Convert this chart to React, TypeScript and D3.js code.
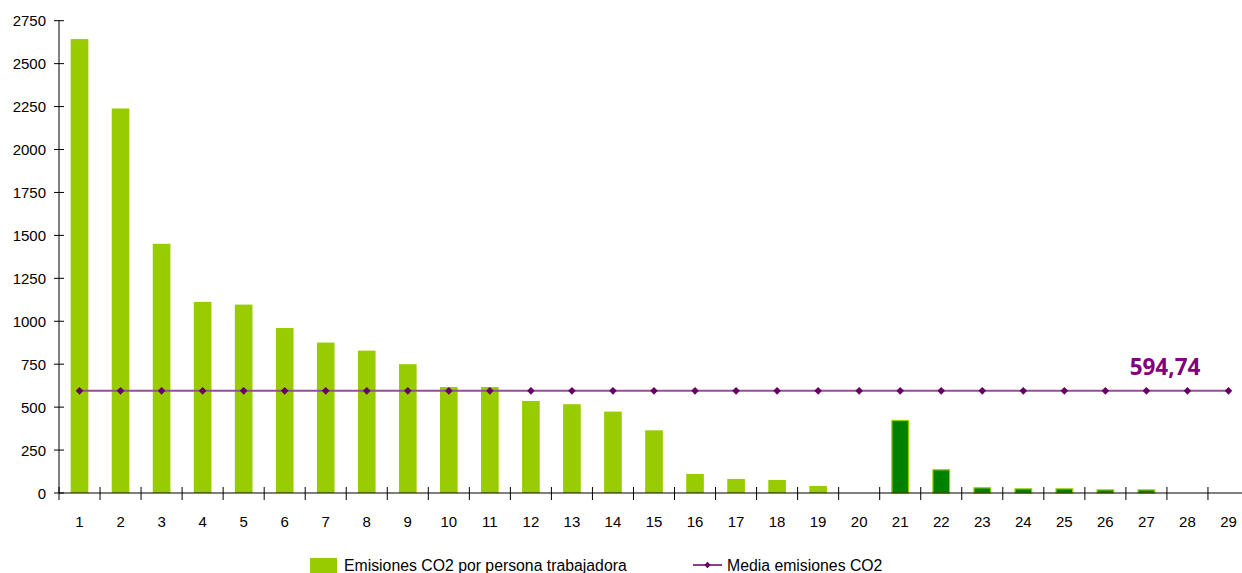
import React from "react";
import * as d3 from "d3";

const categories = Array.from({ length: 29 }, (_, i) => String(i + 1));
const emissions = [2643, 2239, 1451, 1113, 1097, 961, 876, 829, 750, 617, 617, 536, 517, 474, 365, 111, 82, 76, 41, 0, 425, 138, 33, 27, 27, 21, 21, 0, 0];
const darkGroup = [false, false, false, false, false, false, false, false, false, false, false, false, false, false, false, false, false, false, false, false, true, true, true, true, true, true, true, true, true];
const meanValue = 594.74;
const meanLabel = "594,74";
const yTicks = [0, 250, 500, 750, 1000, 1250, 1500, 1750, 2000, 2250, 2500, 2750];
const legendBar = "Emisiones CO2 por persona trabajadora";
const legendLine = "Media emisiones CO2";

const W = 1242;
const H = 573;
const left = 59;
const right = 1249;
const top = 20.7;
const bottom = 493;

export default function App() {
  const x = d3.scaleBand<string>().domain(categories).range([left, right]).paddingInner(0).paddingOuter(0);
  const y = d3.scaleLinear().domain([0, 2750]).range([bottom, top]);
  const bw = x.bandwidth() * 0.43;
  const font = "'Liberation Sans', Arial, sans-serif";
  const my = y(meanValue);
  const diamond = (cx: number, cy: number, r: number) =>
    `M${cx},${cy - r}L${cx + r},${cy}L${cx},${cy + r}L${cx - r},${cy}Z`;
  const boundaries = categories.map((c) => x(c) as number);

  return (
    <svg width={W} height={H} style={{ position: "absolute", left: 0, top: 0, background: "#fff" }}>
      {/* bars */}
      {categories.map((c, i) => {
        const v = emissions[i];
        if (v <= 0) return null;
        const cx = (x(c) as number) + x.bandwidth() / 2;
        const yTop = y(v);
        const dark = darkGroup[i];
        return dark ? (
          <rect key={c} x={cx - bw / 2 + 0.5} y={yTop + 0.5} width={bw - 1} height={bottom - yTop - 0.5}
            fill="#008000" stroke="#99CC00" strokeWidth={1.2} />
        ) : (
          <rect key={c} x={cx - bw / 2} y={yTop} width={bw} height={bottom - yTop} fill="#99CC00" />
        );
      })}
      {/* y axis */}
      <line x1={left} x2={left} y1={top} y2={bottom} stroke="#000" strokeWidth={1} />
      {yTicks.map((t) => (
        <g key={t}>
          <line x1={left - 5} x2={left + 5} y1={y(t)} y2={y(t)} stroke="#000" strokeWidth={1} />
          <text x={46} y={y(t) + 5.5} textAnchor="end" fontFamily={font} fontSize={15} fill="#000">{t}</text>
        </g>
      ))}
      {/* x axis */}
      <line x1={left} x2={W} y1={bottom} y2={bottom} stroke="#000" strokeWidth={1} />
      {boundaries.map((bx, i) => (
        <line key={i} x1={bx} x2={bx} y1={bottom - 6} y2={bottom + 7} stroke="#000" strokeWidth={1} />
      ))}
      {categories.map((c) => (
        <text key={c} x={(x(c) as number) + x.bandwidth() / 2} y={527} textAnchor="middle" fontFamily={font} fontSize={15} fill="#000">{c}</text>
      ))}
      {/* mean line */}
      <line x1={(x(categories[0]) as number) + x.bandwidth() / 2} x2={(x(categories[categories.length - 1]) as number) + x.bandwidth() / 2}
        y1={my} y2={my} stroke="#9A4C9A" strokeWidth={2} />
      {categories.map((c) => (
        <path key={c} d={diamond((x(c) as number) + x.bandwidth() / 2, my, 3.8)} fill="#660066" />
      ))}
      <text x={1165} y={375} textAnchor="middle" fontFamily="'Open Sans', 'Noto Sans', sans-serif" fontWeight="bold" fontSize={22.5} fill="#800080">{meanLabel}</text>
      {/* legend */}
      <rect x={310} y={558} width={27} height={15} fill="#99CC00" />
      <text x={344} y={571} fontFamily={font} fontSize={15.8} fill="#000">{legendBar}</text>
      <line x1={693} x2={722} y1={565} y2={565} stroke="#660066" strokeWidth={1.5} />
      <path d={diamond(707.5, 565, 3.2)} fill="#660066" />
      <text x={727} y={571} fontFamily={font} fontSize={15.8} fill="#000">{legendLine}</text>
    </svg>
  );
}
